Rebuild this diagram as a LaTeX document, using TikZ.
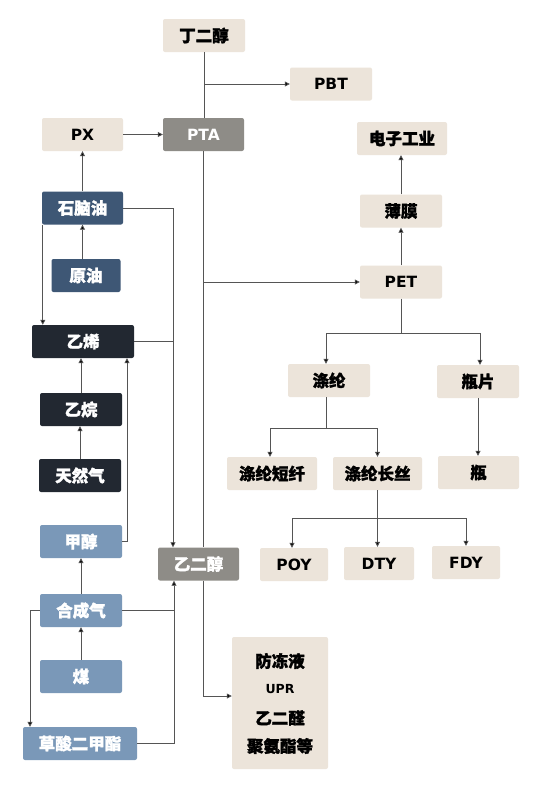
\documentclass[tikz,border=0pt]{standalone}
\usepackage{fontspec}
\setmainfont{Noto Sans CJK SC}[BoldFeatures={FakeBold=1.6}]
\newfontfamily\latinf{DejaVu Sans}
\usetikzlibrary{arrows.meta}
\definecolor{beige}{HTML}{ECE4DA}
\definecolor{grayb}{HTML}{8E8C87}
\definecolor{darkblue}{HTML}{3E5775}
\definecolor{darkest}{HTML}{222831}
\definecolor{lightblue}{HTML}{7A98B8}
\definecolor{linec}{HTML}{555555}
\begin{document}
\begin{tikzpicture}[x=1pt,y=-1pt,
  box/.style={rounded corners=2pt, minimum height=33pt, inner sep=0pt, font=\fontsize{16.5}{19}\selectfont\bfseries},
  lat/.style={font=\fontsize{15.5}{18}\latinf\bfseries},
  bg/.style={box, fill=beige, text=black},
  gr/.style={box, fill=grayb, text=white},
  db/.style={box, fill=darkblue, text=white},
  dk/.style={box, fill=darkest, text=white},
  lb/.style={box, fill=lightblue, text=white},
  txt/.style={inner sep=0pt, font=\fontsize{16.5}{19}\selectfont\bfseries},
  ln/.style={draw=linec, line width=0.8pt},
  arr/.style={ln, -{Triangle[length=5pt,width=5pt,fill=black]}}]
\useasboundingbox[fill=white] (0,0) rectangle (550,796);
% nodes
\node[bg, minimum width=82] (bdo) at (204,35.5) {丁二醇};
\node[bg, lat, minimum width=82] (pbt) at (331,84) {PBT};
\node[bg, lat, minimum width=81] (px) at (82.5,134.5) {PX};
\node[gr, lat, minimum width=81] (pta) at (203.5,134.5) {PTA};
\node[bg, minimum width=90] (elec) at (402,138.5) {电子工业};
\node[bg, minimum width=82] (film) at (401,211) {薄膜};
\node[db, minimum width=81] (naph) at (82.5,208) {石脑油};
\node[db, minimum width=69] (crude) at (86,275.5) {原油};
\node[bg, lat, minimum width=82] (pet) at (401,282) {PET};
\node[dk, minimum width=102] (eth) at (83,341.5) {乙烯};
\node[dk, minimum width=82] (ethane) at (81,409.5) {乙烷};
\node[dk, minimum width=82] (ng) at (80,475.5) {天然气};
\node[lb, minimum width=82] (meoh) at (81,541.5) {甲醇};
\node[bg, minimum width=82] (poly) at (329,380.5) {涤纶};
\node[bg, minimum width=82] (chip) at (478,381.5) {瓶片};
\node[bg, minimum width=90] (psf) at (272,473.5) {涤纶短纤};
\node[bg, minimum width=89] (pfy) at (377.5,473.5) {涤纶长丝};
\node[bg, minimum width=81] (bottle) at (478.5,472.5) {瓶};
\node[bg, lat, minimum width=68] (poy) at (294,564.5) {POY};
\node[bg, lat, minimum width=70] (dty) at (379,563.5) {DTY};
\node[bg, lat, minimum width=68] (fdy) at (466,562.5) {FDY};
\node[gr, minimum width=81] (meg) at (198.5,564) {乙二醇};
\node[lb, minimum width=82] (syn) at (81,610.5) {合成气};
\node[lb, minimum width=82] (coal) at (81,676.5) {煤};
\node[lb, minimum width=114] (dmo) at (80,743.5) {草酸二甲酯};
\node[bg, minimum width=96, minimum height=132] (uses) at (280,703) {};
\node[txt] (u1) at (280,661) {防冻液};
\node[txt, font=\fontsize{12.5}{15}\latinf\bfseries] (u2) at (280,689) {UPR};
\node[txt] (u3) at (280,718) {乙二醛};
\node[txt] (u4) at (280,746) {聚氨酯等};
% connectors
\draw[ln] (bdo.south) -- (bdo.south |- pta.north);
\coordinate (j1) at (bdo.south |- pbt.west);
\draw[arr] (j1) -- (pbt.west);
\draw[arr] (px) -- (pta);
\draw[arr] (naph) -- (px);
\draw[arr] (naph.south |- crude.north) -- (naph.south);
\draw[arr] ([xshift=1pt]naph.south west) -- ([xshift=1pt]naph.south west |- eth.north);
\coordinate (c1) at (173,208);
\draw[arr] (naph.east) -- (c1) -- (c1 |- meg.north);
\draw[ln] (eth.east) -- (eth.east -| c1);
\draw[ln] (pta.south) -- (pta.south |- meg.north);
\draw[arr] (pta.south |- pet.west) -- (pet.west);
\draw[arr] (ethane.north) -- (ethane.north |- eth.south);
\draw[arr] (ng.north) -- (ng.north |- ethane.south);
\coordinate (c2) at (127,541.5);
\draw[arr] (meoh.east) -- (c2) -- (c2 |- eth.south);
\draw[arr] (syn.north) -- (syn.north |- meoh.south);
\draw[arr] (coal) -- (syn);
\coordinate (c3) at (174,743.5);
\draw[arr] (dmo.east) -- (c3) -- (c3 |- meg.south);
\draw[ln] (syn.east) -- (syn.east -| c3);
\coordinate (c4) at (30,610.5);
\draw[arr] (syn.west) -- (c4) -- (c4 |- dmo.north);
\coordinate (c5) at (203.5,696);
\draw[arr] (meg.south -| c5) -- (c5) -- (c5 -| uses.west);
\draw[arr] (film.north) -- (film.north |- elec.south);
\draw[arr] (pet) -- (film);
\coordinate (c6) at (401,333);
\draw[ln] (pet.south) -- (c6);
\draw[arr] (c6) -| ([xshift=-3pt]poly.north);
\draw[arr] (c6) -| ([xshift=2pt]chip.north);
\coordinate (c7) at (326,428);
\draw[ln] ([xshift=-3pt]poly.south) -- (c7);
\draw[arr] (c7) -| ([xshift=-2pt]psf.north);
\draw[arr] (c7) -| (pfy.north);
\draw[arr] (chip) -- (chip |- bottle.north);
\coordinate (c8) at (377.5,518);
\draw[ln] (pfy.south) -- (c8);
\draw[arr] (c8) -| ([xshift=-2pt]poy.north);
\draw[arr] (c8) -- (c8 |- dty.north);
\draw[arr] (c8) -| (fdy.north);
\end{tikzpicture}
\end{document}
